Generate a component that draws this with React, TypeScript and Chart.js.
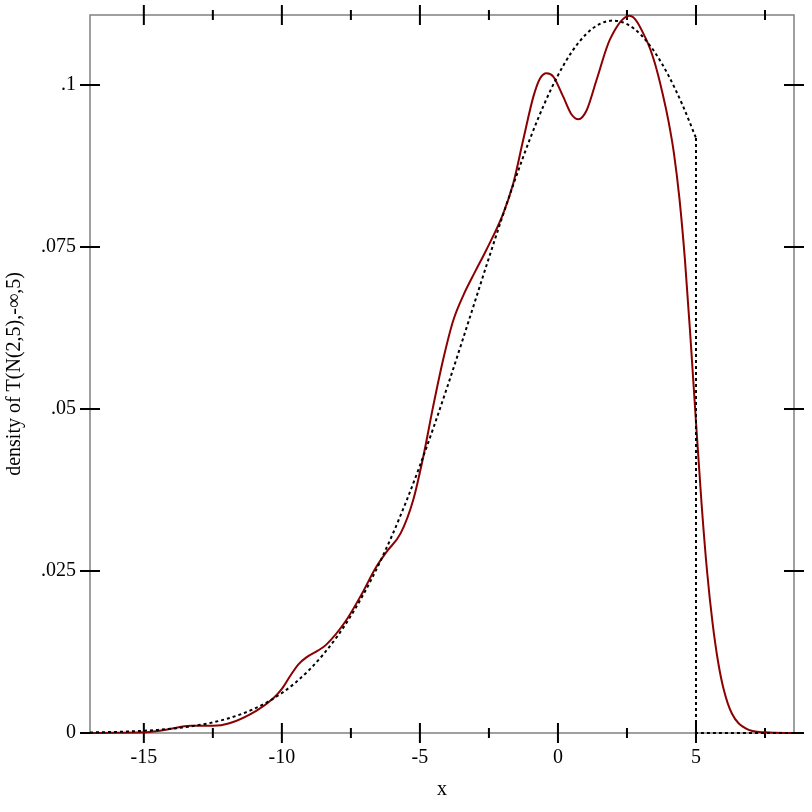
import React, { useEffect, useRef } from "react";
import { Chart, registerables } from "chart.js";

Chart.register(...registerables);

// Kernel density estimate (red)
const kdeX = [-16.95, -16, -15, -14.2, -13.3, -12.5, -11.9, -10.9, -10.3, -10, -9.7, -9.4, -9.1, -8.7, -8.4, -7.7, -7.1, -6.6, -6.2, -5.7, -5.24, -4.88, -4.52, -4.16, -3.79, -3.4, -3.0, -2.6, -1.98, -1.62, -1.26, -0.89, -0.65, -0.41, -0.17, 0.19, 0.5, 0.74, 1.04, 1.4, 1.88, 2.6, 3.2, 3.5, 3.8, 4.0, 4.2, 4.4, 4.6, 4.8, 5.0, 5.2, 5.4, 5.6, 5.8, 6.0, 6.3, 6.8, 7.5, 8.55];
const kdeY = [0, 0.00003, 0.0001, 0.0005, 0.0011, 0.0011, 0.0015, 0.0035, 0.0054, 0.0068, 0.0088, 0.0106, 0.0117, 0.0127, 0.0136, 0.0172, 0.0215, 0.0255, 0.028, 0.0308, 0.036, 0.0426, 0.0504, 0.0576, 0.0637, 0.0678, 0.0712, 0.0745, 0.0802, 0.0848, 0.0915, 0.0982, 0.101, 0.1018, 0.1013, 0.0982, 0.0954, 0.0947, 0.0961, 0.1008, 0.107, 0.1107, 0.107, 0.1035, 0.0985, 0.0945, 0.0895, 0.0825, 0.073, 0.061, 0.048, 0.0355, 0.025, 0.017, 0.011, 0.0068, 0.003, 0.0007, 0.0001, 0];

// Truncated normal density (dashed), smooth part up to the truncation point
const tnX = [-16.95, -16.5, -16, -15.5, -15, -14.5, -14, -13.5, -13, -12.5, -12, -11.5, -11, -10.5, -10, -9.5, -9, -8.5, -8, -7.5, -7, -6.5, -6, -5.5, -5, -4.5, -4, -3.5, -3, -2.5, -2, -1.5, -1, -0.5, 0, 0.5, 1, 1.5, 2, 2.5, 3, 3.5, 4, 4.5, 5];
const tnY = [0.00008, 0.000117, 0.000169, 0.00024, 0.00034, 0.000475, 0.000657, 0.0009, 0.001221, 0.00164, 0.002181, 0.002872, 0.003743, 0.00483, 0.006171, 0.007806, 0.009776, 0.012121, 0.014879, 0.018082, 0.021757, 0.025918, 0.030567, 0.035692, 0.041262, 0.047225, 0.053514, 0.060035, 0.066682, 0.073327, 0.079833, 0.08605, 0.09183, 0.097021, 0.101488, 0.105102, 0.107763, 0.109392, 0.10994, 0.109392, 0.107763, 0.105102, 0.101488, 0.097021, 0.09183];
// Truncation drop and zero tail
const tailX = [5, 5, 8.55];
const tailY = [0.09183, 0, 0];

const xMajor = [-15, -10, -5, 0, 5];
const xMajorLabels = ["-15", "-10", "-5", "0", "5"];
const xMinor = [-12.5, -7.5, -2.5, 2.5, 7.5];
const yTicks = [0, 0.025, 0.05, 0.075, 0.1];
const yTickLabels = ["0", ".025", ".05", ".075", ".1"];

const X_MIN = -16.95;
const X_MAX = 8.55;
const Y_MIN = 0;
const Y_MAX = 0.1108;

const FONT = "'Liberation Serif', 'Times New Roman', serif";
const FONT_SIZE = 20;

const framePlugin = {
  id: "frame",
  beforeDatasetsDraw(chart: any) {
    const { ctx, chartArea } = chart;
    const { left, right, top, bottom } = chartArea;
    const xs = chart.scales.x;
    const ys = chart.scales.y;
    ctx.save();
    ctx.strokeStyle = "#808080";
    ctx.lineWidth = 1.5;
    ctx.strokeRect(left, top, right - left, bottom - top);
    ctx.strokeStyle = "#000";
    ctx.lineWidth = 2;
    ctx.beginPath();
    xMajor.forEach((v) => {
      const p = xs.getPixelForValue(v);
      ctx.moveTo(p, bottom - 10);
      ctx.lineTo(p, bottom + 10);
      ctx.moveTo(p, top - 10);
      ctx.lineTo(p, top + 10);
    });
    xMinor.forEach((v) => {
      const p = xs.getPixelForValue(v);
      ctx.moveTo(p, bottom - 5);
      ctx.lineTo(p, bottom + 5);
      ctx.moveTo(p, top - 5);
      ctx.lineTo(p, top + 5);
    });
    yTicks.forEach((v) => {
      const p = ys.getPixelForValue(v);
      ctx.moveTo(left - 10, p);
      ctx.lineTo(left + 10, p);
      ctx.moveTo(right - 10, p);
      ctx.lineTo(right + 10, p);
    });
    ctx.stroke();
    ctx.restore();
  },
};

export default function App() {
  const ref = useRef<HTMLCanvasElement | null>(null);

  useEffect(() => {
    if (!ref.current) return;
    const dashedStyle = {
      borderColor: "#000000",
      borderWidth: 2,
      borderDash: [3, 3],
      pointRadius: 0,
      fill: false,
      clip: 6,
    };
    const chart = new Chart(ref.current, {
      type: "line",
      data: {
        datasets: [
          {
            label: "density",
            data: tnX.map((x, i) => ({ x, y: tnY[i] })),
            ...dashedStyle,
            cubicInterpolationMode: "monotone",
          },
          {
            label: "density tail",
            data: tailX.map((x, i) => ({ x, y: tailY[i] })),
            ...dashedStyle,
            tension: 0,
          },
          {
            label: "kde",
            data: kdeX.map((x, i) => ({ x, y: kdeY[i] })),
            borderColor: "#8b0000",
            borderWidth: 2,
            pointRadius: 0,
            fill: false,
            cubicInterpolationMode: "monotone",
            clip: 6,
          },
        ],
      },
      options: {
        responsive: false,
        animation: false,
        layout: { padding: { top: 15, right: 18, left: 0, bottom: 0 } },
        plugins: { legend: { display: false }, tooltip: { enabled: false } },
        scales: {
          x: {
            type: "linear",
            position: "bottom",
            min: X_MIN,
            max: X_MAX,
            afterBuildTicks: (s: any) => {
              s.ticks = xMajor.map((v) => ({ value: v }));
            },
            afterFit: (s: any) => {
              s.height = 79;
              s.paddingLeft = 0;
              s.paddingRight = 0;
              s.paddingTop = 0;
              s.paddingBottom = 0;
            },
            grid: { display: true, drawOnChartArea: false, drawTicks: false },
            border: { display: false },
            ticks: {
              padding: 13,
              color: "#000",
              font: { family: FONT, size: FONT_SIZE },
              maxRotation: 0,
              autoSkip: false,
              callback: (v: any) => {
                const i = xMajor.indexOf(Number(v));
                return i >= 0 ? xMajorLabels[i] : "";
              },
            },
            title: {
              display: true,
              text: "x",
              color: "#000",
              font: { family: FONT, size: FONT_SIZE },
              padding: { top: 0, bottom: 10 },
            },
          },
          y: {
            type: "linear",
            position: "left",
            min: Y_MIN,
            max: Y_MAX,
            afterBuildTicks: (s: any) => {
              s.ticks = yTicks.map((v) => ({ value: v }));
            },
            afterFit: (s: any) => {
              s.width = 90;
              s.paddingLeft = 0;
              s.paddingRight = 0;
              s.paddingTop = 0;
              s.paddingBottom = 0;
            },
            grid: { display: true, drawOnChartArea: false, drawTicks: false },
            border: { display: false },
            ticks: {
              padding: 14,
              color: "#000",
              font: { family: FONT, size: FONT_SIZE },
              autoSkip: false,
              callback: (v: any) => {
                const i = yTicks.findIndex((t) => Math.abs(t - Number(v)) < 1e-9);
                return i >= 0 ? yTickLabels[i] : "";
              },
            },
            title: {
              display: true,
              text: "density of T(N(2,5),-∞,5)",
              color: "#000",
              font: { family: FONT, size: FONT_SIZE },
              padding: { top: 3, bottom: 0 },
            },
          },
        },
      },
      plugins: [framePlugin],
    } as any);
    return () => chart.destroy();
  }, []);

  return (
    <div style={{ position: "absolute", left: 0, top: 0, width: 812, height: 812, background: "#fff" }}>
      <canvas ref={ref} width={812} height={812} />
    </div>
  );
}
